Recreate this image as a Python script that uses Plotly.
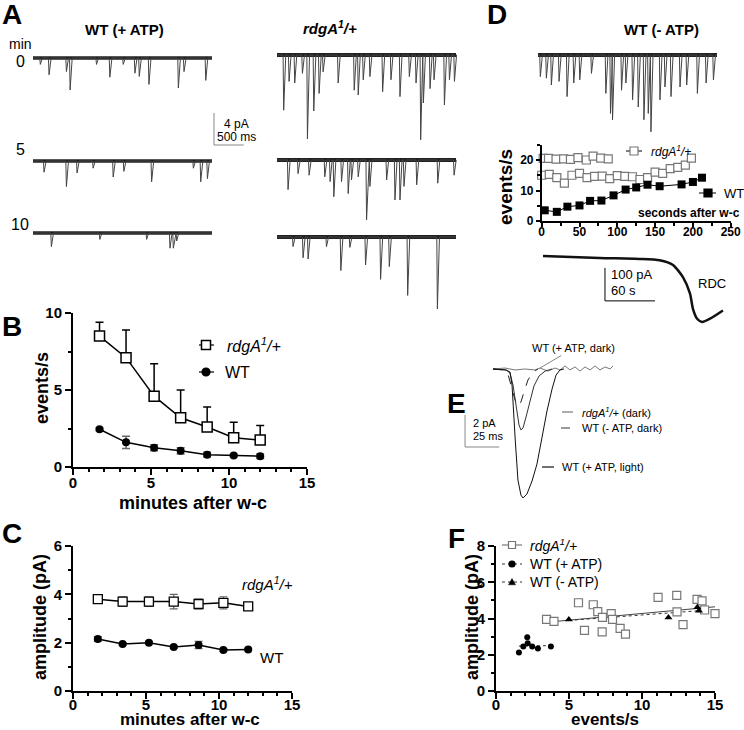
import numpy as np
import plotly.graph_objects as go

W, H = 744, 730
FONT = "Liberation Sans, Arial, Helvetica, sans-serif"

# ---------------- data: panel B / C ----------------
minutes = [1.7, 3.4, 5.2, 6.9, 8.6, 10.3, 12.0]
b_rdga = [8.5, 7.1, 4.6, 3.2, 2.6, 1.9, 1.75]
b_rdga_err = [0.9, 1.8, 2.1, 1.8, 1.3, 1.0, 0.95]
b_wt = [2.45, 1.6, 1.25, 1.05, 0.8, 0.75, 0.7]
b_wt_err = [0.08, 0.4, 0.2, 0.2, 0.15, 0.08, 0.15]
c_rdga = [3.8, 3.7, 3.7, 3.7, 3.6, 3.65, 3.5]
c_rdga_err = [0.05, 0.2, 0.2, 0.3, 0.2, 0.25, 0.05]
c_wt = [2.15, 1.95, 2.0, 1.82, 1.9, 1.7, 1.72]
c_wt_err = [0.1, 0.05, 0.05, 0.05, 0.15, 0.05, 0.05]

# ---------------- data: panel D inset (events/s vs s) ----------------
d_rdga1_t = [2, 9, 19, 29, 38, 48, 59, 68, 78, 88]
d_rdga1 = [20.5, 20.5, 20.3, 20.4, 20.2, 20.8, 20.0, 21.3, 20.6, 20.4]
d_rdga2_t = [0, 10, 20, 30, 40, 50, 60, 70, 80, 90, 100, 110, 120, 130, 140, 150, 160, 170, 180, 190, 198]
d_rdga2 = [15, 15.3, 14.2, 12.4, 15, 15.6, 14.2, 14.6, 14.7, 13.9, 14.9, 14.6, 14.5, 13.6, 14.2, 16, 15.6, 17.2, 17.6, 18.3, 20.6]
d_wt_t = [4, 20, 34, 50, 64, 79, 95, 111, 125, 140, 156, 185, 200, 212]
d_wt = [3.5, 3.0, 4.7, 5.1, 6.6, 6.7, 8.4, 10.3, 11.0, 11.9, 11.4, 12.0, 12.8, 14.2]

# ---------------- data: panel F (amplitude vs events/s) ----------------
f_rdga_x = [3.46, 3.97, 5.65, 6.06, 6.66, 6.97, 7.27, 7.29, 7.89, 7.98, 8.50, 8.87, 11.10, 12.38, 12.40, 12.81, 13.77, 14.11, 14.29, 15.0]
f_rdga_y = [3.95, 3.84, 4.87, 3.35, 4.76, 4.38, 3.26, 4.06, 4.27, 3.95, 3.46, 3.14, 5.17, 5.28, 4.36, 3.66, 5.06, 4.97, 4.47, 4.27]
f_wtp_x = [1.57, 1.87, 2.14, 2.17, 2.48, 2.87, 3.76]
f_wtp_y = [2.13, 2.45, 2.96, 2.63, 2.45, 2.35, 2.45]
f_wtm_x = [4.99, 11.81, 13.79, 13.9]
f_wtm_y = [3.95, 4.05, 4.62, 4.43]

# ---------------- data: traces (event times ms, amplitudes pA) ----------------
TRACE_MS = 3000
wt0_t = [123, 269, 560, 622, 1064, 1288, 1512, 1708, 1781, 1943, 2436, 2531, 2895]
wt0_a = [0.8, 2.1, 1.7, 4.0, 0.8, 2.4, 0.8, 1.9, 2.3, 3.3, 3.75, 1.7, 2.8]
wt5_t = [185, 560, 739, 1008, 1344, 1523, 1988, 2688, 2811, 2923]
wt5_a = [1.4, 3.2, 1.5, 0.9, 2.0, 1.3, 2.6, 0.9, 2.6, 2.2]
wt10_t = [308, 1120, 1904, 2296, 2352, 2408]
wt10_a = [1.7, 0.8, 0.8, 1.9, 1.9, 1.0]
rd0_t = [112, 202, 297, 426, 510, 616, 706, 773, 1025, 1294, 1361, 1445, 1557, 1770, 1910, 2061, 2218, 2330, 2408, 2453, 2565, 2632, 2806, 2890, 2974]
rd0_a = [6.9, 3.3, 3.5, 2.3, 10.5, 7.0, 4.8, 2.1, 3.5, 4.4, 5.0, 3.1, 2.7, 4.6, 3.1, 5.2, 2.7, 3.5, 10.6, 6.0, 4.2, 3.1, 6.25, 3.1, 3.3]
rd5_t = [185, 353, 538, 801, 890, 952, 1081, 1193, 1249, 1361, 1501, 1557, 1837, 1977, 2061, 2128, 2341, 2694, 2968]
rd5_a = [3.7, 1.7, 1.9, 2.1, 2.7, 4.6, 2.7, 4.2, 2.5, 2.1, 7.5, 3.3, 2.5, 5.0, 5.0, 3.3, 3.1, 2.9, 1.9]
rd10_t = [269, 437, 521, 829, 1070, 1221, 1484, 1736, 1882, 2190, 2688]
rd10_a = [1.2, 2.6, 2.75, 1.2, 4.2, 1.3, 3.5, 5.3, 3.7, 7.3, 9.0]
dm_t = [39, 140, 224, 353, 487, 599, 700, 896, 1137, 1215, 1249, 1400, 1473, 1585, 1680, 1775, 1848, 1893, 2044, 2128, 2229, 2380, 2492, 2671, 2817, 2940]
dm_a = [2.7, 2.9, 3.75, 3.3, 5.2, 3.5, 3.1, 2.3, 4.8, 7.3, 8.1, 4.4, 3.5, 5.6, 6.5, 8.1, 7.3, 9.6, 5.6, 4.0, 5.2, 4.0, 3.75, 4.8, 3.5, 3.1]

# RDC (s, pA)
rdc_t = [0, 68, 116, 140, 156, 168, 176.5, 180, 185, 191, 200.5, 216]
rdc_i = [0, -6, -9, -13, -27, -64, -114, -160, -190, -200, -190, -165]

# Panel E averaged events (ms, pA)
e_light_t = [0, 9.5, 12.4, 13.9, 16.1, 18.2, 20.4, 21.9, 24.8, 28.5, 32.1, 35.8, 39.4, 43.1, 46.0, 48.9, 51.8]
e_light_i = [0, -0.06, -0.19, -1.0, -4.25, -6.94, -7.88, -8.06, -7.81, -7.0, -5.94, -4.31, -2.63, -1.25, -0.38, -0.06, 0]
e_rdga_t = [0, 9.5, 12.4, 14.6, 16.8, 19.0, 20.4, 21.9, 24.1, 27.0, 29.9, 33.6, 38.0, 43.1]
e_rdga_i = [0, -0.06, -0.25, -1.0, -2.25, -3.5, -3.81, -3.69, -3.0, -1.94, -1.06, -0.44, -0.13, 0]
e_noatp_t = [0, 7.3, 10.9, 13.9, 16.1, 18.2, 20.4, 22.6, 25.5, 29.2, 32.8]
e_noatp_i = [0, -0.06, -0.31, -1.19, -1.94, -2.31, -2.06, -1.44, -0.69, -0.19, 0]
e_dark_t = [0, 8.8, 16.1, 23.4, 30.7, 34.3, 40.1, 45.3, 48.9, 52.6, 56.2, 59.9, 63.5, 67.2, 70.8, 74.5, 78.1, 81.8, 85.4, 87.6]
e_dark_i = [0, 0.06, -0.06, 0, -0.06, 0.06, -0.13, 0.06, -0.06, 0.19, -0.06, 0.13, -0.13, 0.13, -0.06, 0.19, -0.06, 0.13, 0, 0.19]

# ---------------- helpers ----------------
fig = go.Figure()
axes_layout = {}
n_axes = [0]


def add_axes(xpx, ypx, xrange, yrange):
    n_axes[0] += 1
    n = n_axes[0]
    s = "" if n == 1 else str(n)
    base = dict(visible=False, fixedrange=True, showgrid=False, zeroline=False, automargin=False)
    axes_layout["xaxis" + s] = dict(base, domain=[xpx[0] / W, xpx[1] / W], range=xrange, anchor="y" + s)
    axes_layout["yaxis" + s] = dict(base, domain=[1 - ypx[1] / H, 1 - ypx[0] / H], range=yrange, anchor="x" + s)
    return s


def calib_axes(x0, kx, yb, ky, box):
    left, right, top, bottom = box
    return add_axes((left, right), (top, bottom),
                    [(left - x0) / kx, (right - x0) / kx],
                    [(yb - bottom) / ky, (yb - top) / ky])


def style_axes(s, xt, xminor, yt, yminor, size=15, standoff=-5):
    common = dict(visible=True, showline=True, linewidth=2, linecolor="black",
                  ticks="outside", ticklen=6, tickwidth=2, tickcolor="black",
                  tickfont=dict(family=FONT, size=size, color="black", weight="bold"))
    axes_layout["xaxis" + s].update(common, tickvals=xt, ticklabelstandoff=standoff,
                                     minor=dict(ticks="outside", ticklen=3, tickwidth=1.5, tickcolor="black", dtick=xminor, tick0=0))
    axes_layout["yaxis" + s].update(common, tickvals=yt,
                                     minor=dict(ticks="outside", ticklen=3, tickwidth=1.5, tickcolor="black", dtick=yminor, tick0=0))


def spikes(ev_t, ev_a, dur=TRACE_MS, rise=10, decay=35):
    t, y = [0.0], [0.0]
    for te, a in sorted(zip(ev_t, ev_a)):
        t += [te - rise, te, te + decay]
        y += [0.0, -a, 0.0]
    t.append(dur)
    y.append(0.0)
    return t, y


def add_ephys(s, ev_t, ev_a, band=3.5):
    fig.add_trace(go.Scatter(x=[0, TRACE_MS], y=[0, 0], mode="lines", line=dict(color="#222", width=band),
                             xaxis="x" + s, yaxis="y" + s, showlegend=False, hoverinfo="skip"))
    t, y = spikes(ev_t, ev_a)
    fig.add_trace(go.Scatter(x=t, y=y, mode="lines", line=dict(color="#444", width=1),
                             xaxis="x" + s, yaxis="y" + s, showlegend=False, hoverinfo="skip"))


annotations = []
shapes = []


def text(x, y, s, size=12, bold=False, xanchor="center", angle=0, color="black"):
    annotations.append(dict(x=x / W, y=1 - y / H, xref="paper", yref="paper", text=s, showarrow=False,
                            xanchor=xanchor, yanchor="middle", textangle=angle,
                            font=dict(family=FONT, size=size, color=color, weight="bold" if bold else "normal")))


def key_line(x0, x1, y, color="black", dash="solid", width=1.2):
    shapes.append(dict(type="line", xref="paper", yref="paper", x0=x0 / W, x1=x1 / W, y0=1 - y / H, y1=1 - y / H,
                       line=dict(color=color, width=width, dash=dash)))


def key_marker(x, y, kind, size, fill, edge, lw=1.2):
    h = size / 2
    shapes.append(dict(type="rect" if kind == "square" else "circle", xref="paper", yref="paper",
                       x0=(x - h) / W, x1=(x + h) / W, y0=1 - (y + h) / H, y1=1 - (y - h) / H,
                       fillcolor=fill, line=dict(color=edge, width=lw)))


def key_tri(x, y, size):
    h = size / 2
    path = "M {} {} L {} {} L {} {} Z".format((x - h) / W, 1 - (y + h * 0.8) / H, (x + h) / W, 1 - (y + h * 0.8) / H,
                                             x / W, 1 - (y - h) / H)
    shapes.append(dict(type="path", xref="paper", yref="paper", path=path, fillcolor="black", line=dict(color="black", width=0.5)))


RDGA = "<i>rdgA<sup>1</sup>/+</i>"

# ---------------- panel A traces ----------------
KX_A = 179 / 3000.0  # px per ms
KY_A = 8.0           # px per pA
s_wt0 = calib_axes(33, KX_A, 58, KY_A, (28, 252, 40, 150))
add_ephys(s_wt0, wt0_t, wt0_a)
s_wt5 = calib_axes(33, KX_A, 161, KY_A, (28, 252, 145, 200))
add_ephys(s_wt5, wt5_t, wt5_a)
s_wt10 = calib_axes(33, KX_A, 233, KY_A, (28, 252, 215, 270))
add_ephys(s_wt10, wt10_t, wt10_a)
s_rd0 = calib_axes(277, KX_A, 55, KY_A, (272, 462, 40, 150))
add_ephys(s_rd0, rd0_t, rd0_a, band=4)
s_rd5 = calib_axes(277, KX_A, 160, KY_A, (272, 462, 145, 230))
add_ephys(s_rd5, rd5_t, rd5_a, band=4)
s_rd10 = calib_axes(277, KX_A, 237, KY_A, (272, 462, 220, 320))
add_ephys(s_rd10, rd10_t, rd10_a, band=4)
s_dm = calib_axes(538, KX_A, 55, KY_A, (533, 722, 40, 140))
add_ephys(s_dm, dm_t, dm_a, band=4)

# scale bar A (4 pA, 500 ms) on WT 0-min axes
sb_t, sb_i = 3033, -10.875
shapes.append(dict(type="line", xref="x" + s_wt0, yref="y" + s_wt0, x0=sb_t, x1=sb_t, y0=sb_i, y1=sb_i + 4,
                   line=dict(color="#888", width=1)))
shapes.append(dict(type="line", xref="x" + s_wt0, yref="y" + s_wt0, x0=sb_t, x1=sb_t + 500, y0=sb_i, y1=sb_i,
                   line=dict(color="#888", width=1)))

# ---------------- RDC trace ----------------
s_rdc = calib_axes(543, 0.833, 256, 0.33, (535, 735, 240, 330))
fig.add_trace(go.Scatter(x=rdc_t, y=rdc_i, mode="lines", line=dict(color="#111", width=2.5, shape="spline", smoothing=0.6),
                         xaxis="x" + s_rdc, yaxis="y" + s_rdc, showlegend=False, hoverinfo="skip"))
shapes.append(dict(type="line", xref="x" + s_rdc, yref="y" + s_rdc, x0=74.4, x1=74.4, y0=-136, y1=-36,
                   line=dict(color="black", width=1)))
shapes.append(dict(type="line", xref="x" + s_rdc, yref="y" + s_rdc, x0=74.4, x1=134.4, y0=-136, y1=-136,
                   line=dict(color="black", width=1)))

# ---------------- panel E ----------------
s_e = calib_axes(493, 1.37, 369, 16, (455, 625, 335, 505))
fig.add_trace(go.Scatter(x=e_dark_t, y=e_dark_i, mode="lines", line=dict(color="#777", width=1),
                         xaxis="x" + s_e, yaxis="y" + s_e, showlegend=False, hoverinfo="skip"))
fig.add_trace(go.Scatter(x=e_noatp_t, y=e_noatp_i, mode="lines", line=dict(color="#222", width=1, dash="dash"),
                         xaxis="x" + s_e, yaxis="y" + s_e, showlegend=False, hoverinfo="skip"))
fig.add_trace(go.Scatter(x=e_rdga_t, y=e_rdga_i, mode="lines", line=dict(color="#333", width=1),
                         xaxis="x" + s_e, yaxis="y" + s_e, showlegend=False, hoverinfo="skip"))
fig.add_trace(go.Scatter(x=e_light_t, y=e_light_i, mode="lines", line=dict(color="#111", width=1),
                         xaxis="x" + s_e, yaxis="y" + s_e, showlegend=False, hoverinfo="skip"))
shapes.append(dict(type="line", xref="x" + s_e, yref="y" + s_e, x0=-20.4, x1=-20.4, y0=-4.875, y1=-2.875,
                   line=dict(color="#888", width=1)))
shapes.append(dict(type="line", xref="x" + s_e, yref="y" + s_e, x0=-20.4, x1=4.6, y0=-4.875, y1=-4.875,
                   line=dict(color="#888", width=1)))
annotations.append(dict(x=34.3, y=0.06, xref="x" + s_e, yref="y" + s_e, text="WT (+ ATP, dark)",
                        showarrow=True, arrowhead=0, arrowwidth=0.8, arrowcolor="#666", ax=34, ay=-20,
                        font=dict(family=FONT, size=11, color="black")))

# ---------------- panel B ----------------
s_b = add_axes((73, 307), (313, 467), [0, 15], [0, 10])
style_axes(s_b, [0, 5, 10, 15], 1, [0, 5, 10], 2.5)
fig.add_trace(go.Scatter(x=minutes, y=b_rdga, mode="lines+markers", xaxis="x" + s_b, yaxis="y" + s_b,
                         line=dict(color="black", width=1.5),
                         marker=dict(symbol="square", size=10, color="white", line=dict(color="black", width=1.5)),
                         error_y=dict(type="data", array=b_rdga_err, arrayminus=[0] * 7, symmetric=False,
                                      color="black", thickness=1.5, width=4),
                         showlegend=False, cliponaxis=False))
fig.add_trace(go.Scatter(x=minutes, y=b_wt, mode="lines+markers", xaxis="x" + s_b, yaxis="y" + s_b,
                         line=dict(color="black", width=1.5),
                         marker=dict(symbol="circle", size=8, color="black"),
                         error_y=dict(type="data", array=b_wt_err, color="#666", thickness=1.5, width=4),
                         showlegend=False, cliponaxis=False))

# ---------------- panel C ----------------
s_c = add_axes((73, 292), (546, 691), [0, 15], [0, 6])
style_axes(s_c, [0, 5, 10, 15], 1, [0, 2, 4, 6], 1, standoff=-7)
fig.add_trace(go.Scatter(x=minutes, y=c_rdga, mode="lines+markers", xaxis="x" + s_c, yaxis="y" + s_c,
                         line=dict(color="black", width=1.5),
                         marker=dict(symbol="square", size=9, color="white", line=dict(color="black", width=1.3)),
                         error_y=dict(type="data", array=c_rdga_err, color="#666", thickness=1.2, width=4),
                         showlegend=False, cliponaxis=False))
fig.add_trace(go.Scatter(x=minutes, y=c_wt, mode="lines+markers", xaxis="x" + s_c, yaxis="y" + s_c,
                         line=dict(color="black", width=1.5),
                         marker=dict(symbol="circle", size=8, color="black"),
                         error_y=dict(type="data", array=c_wt_err, color="#666", thickness=1.2, width=4),
                         showlegend=False, cliponaxis=False))

# ---------------- panel D inset ----------------
s_d = add_axes((541.7, 730.7), (144.75, 221), [0, 250], [0, 25])
style_axes(s_d, [0, 50, 100, 150, 200, 250], 25, [0, 10, 20], 5, size=12)
axes_layout["xaxis" + s_d].update(ticklen=4, linewidth=1.5, tickwidth=1.5)
axes_layout["yaxis" + s_d].update(ticklen=4, linewidth=1.5, tickwidth=1.5)
for tt, vv in ((d_rdga1_t, d_rdga1), (d_rdga2_t, d_rdga2)):
    fig.add_trace(go.Scatter(x=tt, y=vv, mode="lines+markers", xaxis="x" + s_d, yaxis="y" + s_d,
                             line=dict(color="black", width=1),
                             marker=dict(symbol="square", size=8, color="white", line=dict(color="#777", width=1.2)),
                             showlegend=False, cliponaxis=False))
fig.add_trace(go.Scatter(x=d_wt_t, y=d_wt, mode="lines+markers", xaxis="x" + s_d, yaxis="y" + s_d,
                         line=dict(color="black", width=1),
                         marker=dict(symbol="square", size=8, color="black"),
                         showlegend=False, cliponaxis=False))

# ---------------- panel F ----------------
s_f = add_axes((496, 715), (546, 691), [0, 15], [0, 8])
style_axes(s_f, [0, 5, 10, 15], 1, [0, 2, 4, 6, 8], 1, standoff=-7)
for xs, ys, col, dash in ((f_rdga_x, f_rdga_y, "#444", "solid"), (f_wtp_x, f_wtp_y, "#333", "dot"),
                         (f_wtm_x, f_wtm_y, "#333", "dot")):
    k, b0 = np.polyfit(xs, ys, 1)
    xe = [min(xs), max(xs)]
    fig.add_trace(go.Scatter(x=xe, y=[k * v + b0 for v in xe], mode="lines", xaxis="x" + s_f, yaxis="y" + s_f,
                             line=dict(color=col, width=1, dash=dash), showlegend=False, hoverinfo="skip"))
fig.add_trace(go.Scatter(x=f_rdga_x, y=f_rdga_y, mode="markers", xaxis="x" + s_f, yaxis="y" + s_f,
                         marker=dict(symbol="square", size=8, color="white", line=dict(color="#777", width=1.2)),
                         showlegend=False, cliponaxis=False))
fig.add_trace(go.Scatter(x=f_wtp_x, y=f_wtp_y, mode="markers", xaxis="x" + s_f, yaxis="y" + s_f,
                         marker=dict(symbol="circle", size=6, color="black"), showlegend=False, cliponaxis=False))
fig.add_trace(go.Scatter(x=f_wtm_x, y=f_wtm_y, mode="markers", xaxis="x" + s_f, yaxis="y" + s_f,
                         marker=dict(symbol="triangle-up", size=7, color="black"), showlegend=False, cliponaxis=False))

# ---------------- text & keys ----------------
for lab, x, y in (("A", 12, 14), ("B", 12, 326), ("C", 12, 533), ("D", 497, 14), ("E", 456, 404), ("F", 456, 538)):
    text(x, y, lab, size=28, bold=True)

text(125, 29, "WT (+ ATP)", size=15, bold=True)
text(330, 28, "<i>rdgA<sup>1</sup>/+</i>", size=15, bold=True)
text(661, 30, "WT (- ATP)", size=15, bold=True)
text(20, 44, "min", size=14)
text(20, 62, "0", size=16)
text(20, 150, "5", size=16)
text(20, 224, "10", size=16)
text(222, 124, "4 pA", size=12, xanchor="left")
text(215, 137, "500 ms", size=12, xanchor="left")

# B
text(42, 388, "events/s", size=18, bold=True, angle=-90)
text(193, 503, "minutes after w-c", size=18, bold=True)
key_line(199, 214, 345)
key_marker(206, 345, "square", 9, "white", "black", 1.5)
text(225, 345, RDGA, size=16, xanchor="left")
key_line(199, 214, 372)
key_marker(206, 372, "circle", 8, "black", "black")
text(223, 372, "WT", size=16, xanchor="left")

# C
text(40, 617, "amplitude (pA)", size=18, bold=True, angle=-90)
text(190, 719, "minutes after w-c", size=17, bold=True)
text(240, 583, RDGA, size=15, xanchor="left")
text(258, 657, "WT", size=15, xanchor="left")

# D inset
text(505, 187, "events/s", size=19, bold=True, angle=-90)
text(742, 213, "seconds after w-c", size=12, bold=True, xanchor="right")
key_line(626, 642, 151, color="black", width=1)
key_marker(634, 151, "square", 8, "white", "#777")
text(649, 151, RDGA, size=12, xanchor="left")
key_line(699, 716, 193, color="black", width=1)
key_marker(708, 193, "square", 8, "black", "black")
text(722, 193, "WT", size=13, xanchor="left")
text(609, 274, "100 pA", size=13, xanchor="left")
text(609, 290, "60 s", size=13, xanchor="left")
text(696, 284, "RDC", size=13, xanchor="left")

# E
text(471, 423, "2 pA", size=11, xanchor="left")
text(471, 436, "25 ms", size=11, xanchor="left")
key_line(562, 573, 412, color="#777", width=1.2)
text(580, 412, "<i>rdgA<sup>1</sup>/+</i> (dark)", size=11, xanchor="left")
key_line(561, 573, 428, color="#333", dash="dash", width=1)
text(580, 428, "WT (- ATP, dark)", size=11, xanchor="left")
key_line(542, 554, 467, color="#111", width=1.2)
text(560, 467, "WT (+ ATP, light)", size=11, xanchor="left")

# F
text(472, 617, "amplitude (pA)", size=18, bold=True, angle=-90)
text(605, 719, "events/s", size=17, bold=True)
key_line(502, 522, 545, color="#777", width=1.2)
key_marker(512, 545, "square", 7, "white", "#777")
text(528, 545, RDGA, size=14, xanchor="left")
key_line(502, 522, 564, color="#333", dash="dot", width=1)
key_marker(512, 564, "circle", 6, "black", "black")
text(528, 564, "WT (+ ATP)", size=14, xanchor="left")
key_line(502, 522, 582, color="#333", dash="dot", width=1)
key_tri(512, 582, 7)
text(528, 582, "WT (- ATP)", size=14, xanchor="left")

fig.update_layout(template="none", width=W, height=H, margin=dict(l=0, r=0, t=0, b=0, pad=0, autoexpand=False),
                  autosize=False, paper_bgcolor="white", plot_bgcolor="rgba(0,0,0,0)", showlegend=False,
                  annotations=annotations, shapes=shapes, font=dict(family=FONT), **axes_layout)
fig.write_html("out.html", config={"displayModeBar": False},
               post_script="document.body.style.margin='0';document.body.style.padding='0';"
                           "document.body.style.overflow='hidden';")
